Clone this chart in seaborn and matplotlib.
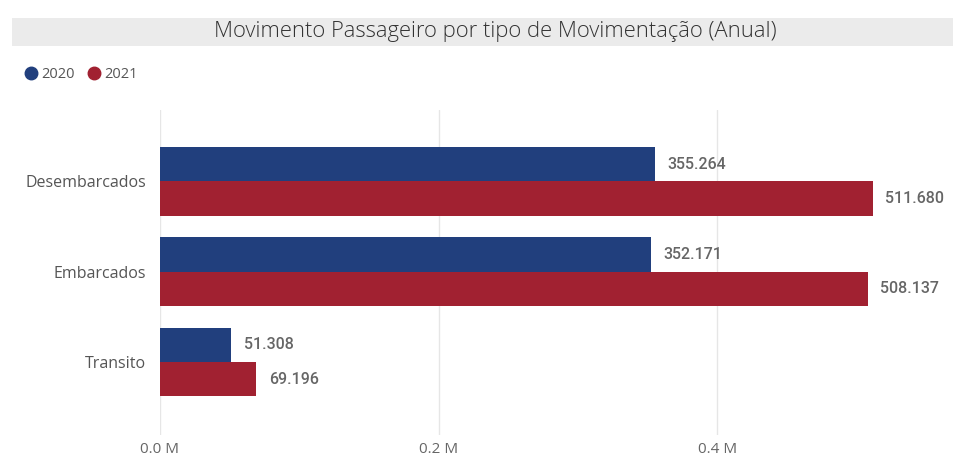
import matplotlib
matplotlib.use("Agg")
import matplotlib.pyplot as plt
import seaborn as sns
import pandas as pd
from matplotlib.patches import Rectangle
from matplotlib.lines import Line2D

categories = ["Desembarcados", "Embarcados", "Transito"]
years = ["2020", "2021"]
values_2020 = [355264, 352171, 51308]
values_2021 = [511680, 508137, 69196]
tick_values = [0, 200000, 400000]
tick_labels = ["0.0 M", "0.2 M", "0.4 M"]
title = "Movimento Passageiro por tipo de Movimentação (Anual)"

colors = {"2020": "#213F7D", "2021": "#A12131"}

df = pd.DataFrame({
    "tipo": categories * 2,
    "ano": [years[0]] * 3 + [years[1]] * 3,
    "valor": values_2020 + values_2021,
})

sns.set_theme(style="white")
plt.rcParams["font.family"] = ["Open Sans", "DejaVu Sans"]

W, H = 954, 459
fig = plt.figure(figsize=(W / 100, H / 100), dpi=100)
ax = fig.add_axes([160 / W, 1 - 435 / H, (947 - 160) / W, (435 - 110) / H])

sns.barplot(data=df, y="tipo", x="valor", hue="ano", order=categories,
            hue_order=years, palette=colors, orient="h", width=0.76,
            ax=ax, legend=False, saturation=1, edgecolor="none")

ax.set_xlim(0, (947 - 160) / 1393 * 1e6)
ax.set_ylim(2.81, -0.79)
ax.set_xticks(tick_values)
ax.set_xticklabels(tick_labels, color="#666666", fontsize=11)
ax.tick_params(axis="x", length=0, pad=5)
ax.tick_params(axis="y", length=0, pad=10, labelsize=11.5, labelcolor="#555555")
ax.set_xlabel("")
ax.set_ylabel("")
for s in ax.spines.values():
    s.set_visible(False)
ax.grid(axis="x", color="#e6e6e6", linewidth=1)
ax.set_axisbelow(True)

for container in ax.containers:
    labels = [f"{int(v):,}".replace(",", ".") for v in container.datavalues]
    ax.bar_label(container, labels=labels, padding=9, color="#666666",
                 fontsize=11.5, fontweight="medium",
                 family=["Roboto", "DejaVu Sans"])

# title band
fig.patches.append(Rectangle((12 / W, 1 - 46 / H), (954 - 12) / W, 28 / H,
                             transform=fig.transFigure, facecolor="#ebebeb",
                             edgecolor="none", zorder=0))
fig.text(495 / W, 1 - 32 / H, title, ha="center", va="center",
         fontsize=15.8, color="#333333", fontweight="light")

# legend
handles = [Line2D([], [], marker="o", linestyle="none", markersize=9,
                  markerfacecolor=colors[y], markeredgecolor=colors[y])
           for y in years]
fig.legend(handles, years, loc="center left", bbox_to_anchor=(8 / W, 1 - 75 / H),
           ncol=2, frameon=False, handletextpad=0.0, columnspacing=0.6,
           fontsize=10.5, labelcolor="#555555", handlelength=1.4)

fig.savefig("out.png", dpi=100)
